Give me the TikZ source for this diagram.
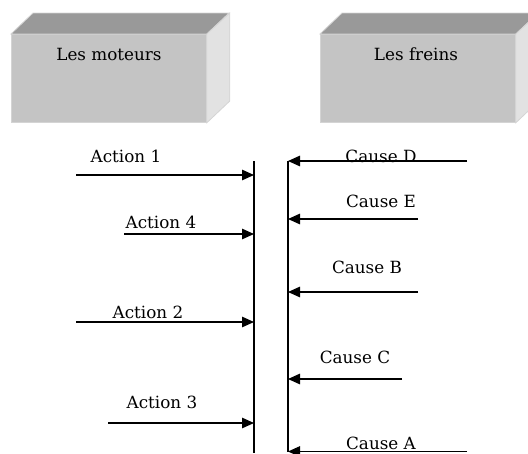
\documentclass[tikz,border=0pt]{standalone}
\usepackage{fontspec}
\setmainfont{DejaVu Serif}
\usetikzlibrary{arrows.meta}
\definecolor{frontgray}{HTML}{C4C4C4}
\definecolor{topgray}{HTML}{999999}
\definecolor{sidegray}{HTML}{E2E2E2}
\definecolor{edgegray}{HTML}{D4D4D4}
\begin{document}
\begin{tikzpicture}[x=1pt,y=-1pt,
  lbl/.style={font=\fontsize{16.8}{17}\selectfont, inner sep=0pt, anchor=base},
  arr/.style={-{Triangle[length=12pt,width=10.5pt]}, line width=1.2pt},
  front/.style={fill=frontgray, draw=edgegray, line width=0.8pt, minimum width=195pt, minimum height=88pt, anchor=north west, inner sep=0pt},
  topface/.style={fill=topgray, draw=edgegray, line width=0.8pt},
  sideface/.style={fill=sidegray, draw=edgegray, line width=0.8pt},
  vline/.style={line width=1.2pt}
]
\useasboundingbox (0,0) rectangle (528,453);
\clip (0,0) rectangle (528,453);
% left box
\node[front] (m) at (11,34) {};
\draw[topface] (m.north west) -- ++(22,-21) -- ++(196,0) -- (m.north east) -- cycle;
\draw[sideface] (m.north east) -- ++(23,-21) -- ++(0,88) -- (m.south east) -- cycle;
\node[lbl] (tm) at (109,60) {Les moteurs};
% right box
\node[front] (f) at (320,34) {};
\draw[topface] (f.north west) -- ++(22,-21) -- ++(196,0) -- (f.north east) -- cycle;
\draw[sideface] (f.north east) -- ++(23,-21) -- ++(0,88) -- (f.south east) -- cycle;
\node[lbl] (tf) at (416,60) {Les freins};
% vertical lines
\coordinate (L1) at (254,161);
\coordinate (L2) at (254,453);
\coordinate (R1) at (288,161);
\coordinate (R2) at (288,452);
\draw[vline] (L1) -- (L2);
\draw[vline] (R1) -- (R2);
% actions
\coordinate (a1) at (76,175);
\coordinate (a4) at (124,234);
\coordinate (a2) at (76,322);
\coordinate (a3) at (108,423);
\draw[arr] (a1) -- (a1 -| L1);
\draw[arr] (a4) -- (a4 -| L1);
\draw[arr] (a2) -- (a2 -| L1);
\draw[arr] (a3) -- (a3 -| L1);
\node[lbl] (ta1) at (126,162) {Action 1};
\node[lbl] (ta4) at (161,228) {Action 4};
\node[lbl] (ta2) at (148,318) {Action 2};
\node[lbl] (ta3) at (162,408) {Action 3};
% causes
\node[lbl] (tcd) at (381,162) {Cause D};
\node[lbl] (tce) at (381,207) {Cause E};
\node[lbl] (tcb) at (367,273) {Cause B};
\node[lbl] (tcc) at (355,363) {Cause C};
\node[lbl] (tca) at (381,449) {Cause A};
\coordinate (cd) at (467,161);
\coordinate (ce) at (418,219);
\coordinate (cb) at (418,292);
\coordinate (cc) at (402,379);
\coordinate (ca) at (467,451.5);
\draw[arr] (cd) -- (cd -| R1);
\draw[arr] (ce) -- (ce -| R1);
\draw[arr] (cb) -- (cb -| R1);
\draw[arr] (cc) -- (cc -| R1);
\draw[arr] (ca) -- (ca -| R1);
\end{tikzpicture}
\end{document}
